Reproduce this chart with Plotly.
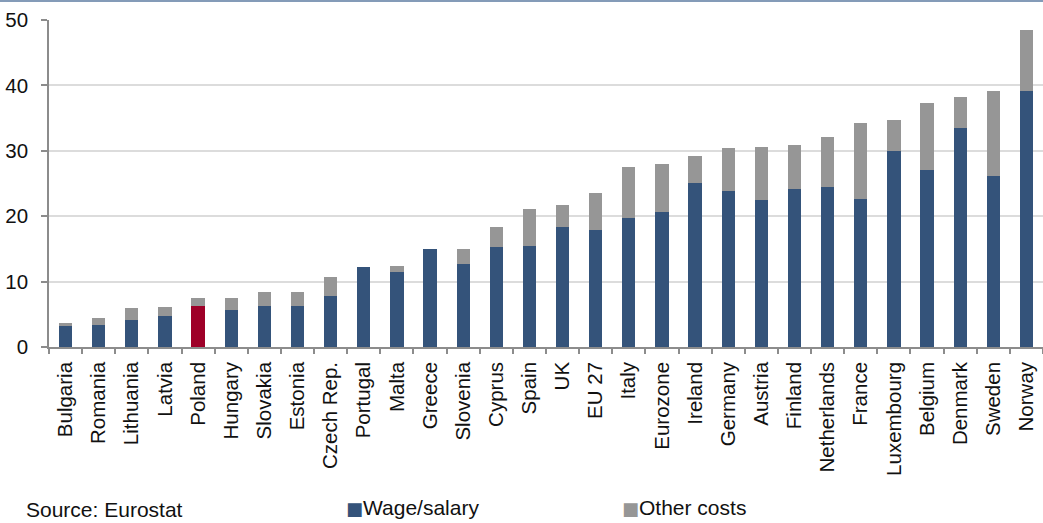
import plotly.graph_objects as go

# Hourly labour costs, EUR: wage/salary part and other (non-wage) costs
countries = ["Bulgaria", "Romania", "Lithuania", "Latvia", "Poland", "Hungary",
             "Slovakia", "Estonia", "Czech Rep.", "Portugal", "Malta", "Greece",
             "Slovenia", "Cyprus", "Spain", "UK", "EU 27", "Italy", "Eurozone",
             "Ireland", "Germany", "Austria", "Finland", "Netherlands", "France",
             "Luxembourg", "Belgium", "Denmark", "Sweden", "Norway"]
wage = [3.2, 3.4, 4.2, 4.8, 6.3, 5.6, 6.2, 6.2, 7.8, 12.2, 11.4, 15.0,
        12.7, 15.3, 15.5, 18.4, 17.9, 19.8, 20.7, 25.1, 23.8, 22.5, 24.1,
        24.4, 22.7, 30.0, 27.1, 33.5, 26.1, 39.2]
other = [0.5, 1.0, 1.7, 1.3, 1.2, 1.9, 2.2, 2.2, 2.9, 0.0, 1.0, 0.0,
         2.3, 3.0, 5.6, 3.3, 5.6, 7.7, 7.3, 4.1, 6.7, 8.1, 6.8,
         7.7, 11.6, 4.7, 10.2, 4.7, 13.0, 9.3]
y_ticks = [0, 10, 20, 30, 40, 50]

series_names = ["Wage/salary", "Other costs"]
wage_color = "#34537a"
other_color = "#969696"
highlight = {"Poland": "#9e0028"}

font_family = "Liberation Sans, Arial, sans-serif"

fig = go.Figure()
fig.add_trace(go.Bar(
    x=countries, y=wage, name=series_names[0],
    marker=dict(color=[highlight.get(c, wage_color) for c in countries],
                line=dict(width=0)),
    showlegend=False,
))
fig.add_trace(go.Bar(
    x=countries, y=other, name=series_names[1],
    marker=dict(color=other_color, line=dict(width=0)),
    showlegend=False,
))

fig.update_layout(
    barmode="stack",
    bargap=0.6,
    width=1043, height=523,
    margin=dict(l=49, r=0, t=20, b=176, pad=0),
    paper_bgcolor="white", plot_bgcolor="white",
    font=dict(family=font_family, size=20, color="#111111"),
)
fig.update_xaxes(
    type="category",
    tickangle=-90,
    ticks="outside", ticklen=5, tickcolor="#8c8c8c", tickwidth=1.5,
    tickson="boundaries",
    ticklabelstandoff=5,
    showline=True, linecolor="#8c8c8c", linewidth=1.5,
    showgrid=False,
    tickfont=dict(size=20.5, color="#111111"),
    range=[-0.5, len(countries) - 0.5],
)
fig.update_yaxes(
    range=[0, 50], tickvals=y_ticks,
    ticks="outside", ticklen=6, tickcolor="#8c8c8c", tickwidth=1.5,
    ticklabelstandoff=9,
    showline=True, linecolor="#8c8c8c", linewidth=1.5,
    showgrid=True, gridcolor="#dcdcdc", gridwidth=1.5,
    zeroline=False,
    tickfont=dict(size=20.5, color="#111111"),
)

# thin rule across the top of the figure
fig.add_shape(type="line", xref="paper", yref="paper",
              x0=-0.06, x1=1.0, y0=1.058, y1=1.058,
              line=dict(color="#5b7aa0", width=1.5))

fig.add_annotation(text="Source: Eurostat", xref="paper", yref="paper",
                   x=-0.0255, y=-0.498, xanchor="left", yanchor="middle",
                   showarrow=False, font=dict(size=21, color="#111111"))

# legend entries
legend_items = [(series_names[0], wage_color, 0.2965),
                (series_names[1], other_color, 0.5745)]
for name, col, xp in legend_items:
    fig.add_annotation(
        text=(f"<span style='color:{col};font-family:DejaVu Sans;"
              f"font-size:18px'>■</span>{name}"),
        xref="paper", yref="paper", x=xp, y=-0.49,
        xanchor="left", yanchor="middle", showarrow=False,
        font=dict(size=21, color="#111111"),
    )

fig.write_html("out.html")
